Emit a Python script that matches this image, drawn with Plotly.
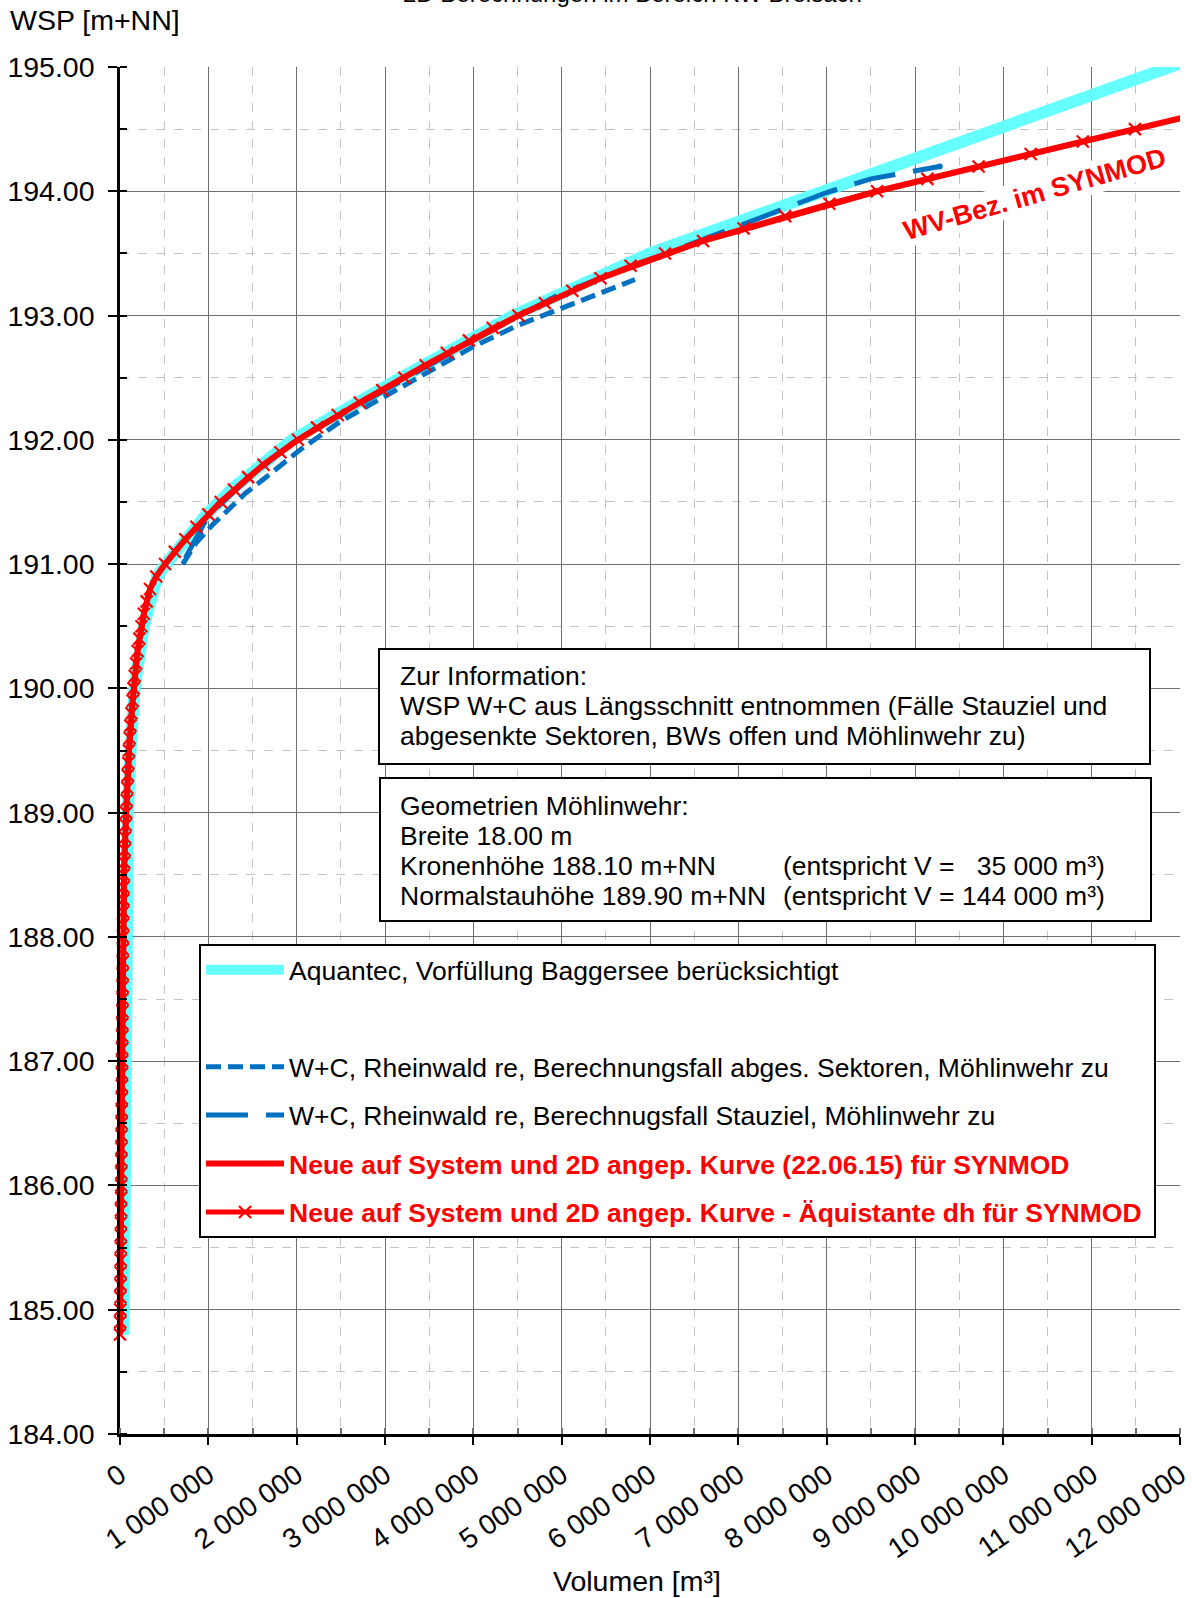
import plotly.graph_objects as go

# ---------------------------------------------------------------------------
# Storage curves  (water level WSP [m+NN] vs. volume [m³])
# ---------------------------------------------------------------------------

# Aquantec, pre-filling of the gravel pit considered
aquantec_wsp = [184.8, 185.0, 186.0, 187.0, 188.0, 189.0, 189.5, 190.0, 190.5, 190.8,
                190.9, 191.0, 191.2, 191.4, 191.6, 191.8, 192.0, 192.5, 193.0, 193.5,
                194.0, 194.5, 195.0, 195.1]
aquantec_vol = [40000, 42000, 50000, 58000, 68000, 90000, 120000, 165000, 270000, 370000,
                420000, 520000, 740000, 980000, 1260000, 1580000, 1950000, 3180000, 4450000, 6000000,
                7970000, 9950000, 11880000, 12280000]

# W+C, Rheinwald re, case "lowered sectors"
wc_sek_wsp = [191.00, 191.17, 191.31, 191.45, 191.57, 191.68, 191.81, 191.92, 192.15, 192.35,
              192.56, 192.75, 192.92, 193.06, 193.19, 193.29]
wc_sek_vol = [710000, 860000, 1040000, 1240000, 1420000, 1620000, 1840000, 2040000, 2500000, 3000000,
              3500000, 4000000, 4500000, 5000000, 5450000, 5830000]

# W+C, Rheinwald re, case "Stauziel"
wc_stau_wsp = [191.05, 191.39, 191.72, 192.00, 192.40, 192.80, 193.18, 193.45, 193.61, 193.72,
               193.85, 193.99, 194.10, 194.17, 194.20]
wc_stau_vol = [740000, 1000000, 1500000, 2000000, 3000000, 4000000, 5000000, 6000000, 6600000, 7000000,
               7500000, 8000000, 8500000, 9000000, 9280000]

# New curve adapted to system and 2D (22.06.15)
neu_wsp = [184.8, 185.5, 186.5, 187.5, 188.1, 188.5, 189.0, 189.5, 189.9, 190.3,
           190.6, 190.8, 190.9, 191.0, 191.2, 191.5, 191.8, 192.0, 192.3, 192.6,
           193.0, 193.3, 193.6, 194.0, 194.3, 194.6]
neu_vol = [0, 9000, 19000, 29000, 35000, 44000, 70000, 101000, 144000, 199000,
           270000, 340000, 410000, 510000, 740000, 1140000, 1625000, 2015000, 2715000, 3460000,
           4510000, 5440000, 6600000, 8570000, 10310000, 12080000]

# New curve, equidistant levels (dh = 0.1 m)
aeq_wsp = [184.8, 184.9, 185.0, 185.1, 185.2, 185.3, 185.4, 185.5, 185.6, 185.7,
           185.8, 185.9, 186.0, 186.1, 186.2, 186.3, 186.4, 186.5, 186.6, 186.7,
           186.8, 186.9, 187.0, 187.1, 187.2, 187.3, 187.4, 187.5, 187.6, 187.7,
           187.8, 187.9, 188.0, 188.1, 188.2, 188.3, 188.4, 188.5, 188.6, 188.7,
           188.8, 188.9, 189.0, 189.1, 189.2, 189.3, 189.4, 189.5, 189.6, 189.7,
           189.8, 189.9, 190.0, 190.1, 190.2, 190.3, 190.4, 190.5, 190.6, 190.7,
           190.8, 190.9, 191.0, 191.1, 191.2, 191.3, 191.4, 191.5, 191.6, 191.7,
           191.8, 191.9, 192.0, 192.1, 192.2, 192.3, 192.4, 192.5, 192.6, 192.7,
           192.8, 192.9, 193.0, 193.1, 193.2, 193.3, 193.4, 193.5, 193.6, 193.7,
           193.8, 193.9, 194.0, 194.1, 194.2, 194.3, 194.4, 194.5]
aeq_vol = [0, 2000, 4000, 5000, 6000, 7000, 8000, 9000, 10000, 11000,
           12000, 13000, 14000, 15000, 16000, 17000, 18000, 19000, 20000, 21000,
           22000, 23000, 24000, 25000, 26000, 27000, 28000, 29000, 30000, 31000,
           32000, 33000, 34000, 35000, 37000, 39000, 41000, 44000, 48000, 53000,
           58000, 64000, 70000, 76000, 82000, 88000, 94000, 101000, 109000, 118000,
           129000, 144000, 154000, 167000, 182000, 199000, 219000, 243000, 270000, 302000,
           340000, 410000, 510000, 620000, 740000, 865000, 1000000, 1140000, 1290000, 1450000,
           1625000, 1815000, 2015000, 2230000, 2465000, 2715000, 2970000, 3220000, 3460000, 3700000,
           3950000, 4220000, 4510000, 4810000, 5120000, 5440000, 5780000, 6170000, 6600000, 7060000,
           7530000, 8030000, 8570000, 9140000, 9720000, 10310000, 10900000, 11490000]

legend_names = [
    "Aquantec, Vorfüllung Baggersee berücksichtigt",
    " ",
    "W+C, Rheinwald re, Berechnungsfall abges. Sektoren, Möhlinwehr zu",
    "W+C, Rheinwald re, Berechnugsfall Stauziel, Möhlinwehr zu",
    "Neue auf System und 2D angep. Kurve (22.06.15) für SYNMOD",
    "Neue auf System und 2D angep. Kurve - Äquistante dh für SYNMOD",
]

x_tick_vals = [0, 1e6, 2e6, 3e6, 4e6, 5e6, 6e6, 7e6, 8e6, 9e6, 10e6, 11e6, 12e6]
y_tick_vals = [184, 185, 186, 187, 188, 189, 190, 191, 192, 193, 194, 195]

# ---------------------------------------------------------------------------
FONT = "Liberation Sans, Arial, sans-serif"
CYAN = "#66FFFF"
BLUE = "#0070C0"
RED = "#FF0000"

W, H = 1192, 1598
ML, MR, MT, MB = 120, 12, 67, 164
PW, PH = W - ML - MR, H - MT - MB


def px(x):
    return (x - ML) / PW


def py(y):
    return (H - MB - y) / PH


def red(txt):
    return f"<span style='color:{RED}'><b>{txt}</b></span>"


fig = go.Figure()

fig.add_trace(go.Scatter(
    x=aquantec_vol, y=aquantec_wsp, mode="lines", name=legend_names[0],
    line=dict(color=CYAN, width=12), legendgroup="a"))

fig.add_trace(go.Scatter(
    x=[None], y=[None], mode="lines", name=legend_names[1],
    line=dict(color="rgba(0,0,0,0)", width=1), legendgroup="b"))

fig.add_trace(go.Scatter(
    x=wc_sek_vol, y=wc_sek_wsp, mode="lines", name=legend_names[2],
    line=dict(color=BLUE, width=5, dash="15px,7px"), legendgroup="c"))

fig.add_trace(go.Scatter(
    x=wc_stau_vol, y=wc_stau_wsp, mode="lines", name=legend_names[3],
    line=dict(color=BLUE, width=5, dash="42px,18px"), legendgroup="d"))

fig.add_trace(go.Scatter(
    x=wc_stau_vol[-1:], y=wc_stau_wsp[-1:], mode="markers", showlegend=False,
    marker=dict(color=BLUE, size=6), legendgroup="d"))

fig.add_trace(go.Scatter(
    x=neu_vol, y=neu_wsp, mode="lines", name=red(legend_names[4]),
    line=dict(color=RED, width=6), legendgroup="e"))

fig.add_trace(go.Scatter(
    x=aeq_vol, y=aeq_wsp, mode="lines+markers", name=red(legend_names[5]) + "\u00a0",
    line=dict(color=RED, width=5),
    marker=dict(symbol="x-thin", size=12, color=RED, line=dict(color=RED, width=2.2)),
    cliponaxis=False, legendgroup="f"))

grid_major = "#6f6f6f"
grid_minor = "#c4c4c4"

fig.update_layout(
    width=W, height=H,
    margin=dict(l=ML, r=MR, t=MT, b=MB, pad=0, autoexpand=False),
    paper_bgcolor="white", plot_bgcolor="white",
    separators=". ",
    font=dict(family=FONT, size=26, color="black"),
    showlegend=True,
    legend=dict(
        x=px(199), y=py(944), xanchor="left", yanchor="top",
        bgcolor="white", bordercolor="black", borderwidth=2,
        font=dict(family=FONT, size=26.5, color="black"),
        itemwidth=78, tracegroupgap=11, traceorder="grouped",
    ),
    xaxis=dict(
        range=[0, 12e6], tickvals=x_tick_vals, tickformat=",", automargin=False,
        tickangle=-35, tickfont=dict(size=28), ticklabelstandoff=3,
        showline=True, linecolor="black", linewidth=2.5,
        ticks="outside", ticklen=8, tickcolor="black", tickwidth=1.5,
        showgrid=True, gridcolor=grid_major, gridwidth=1.3, zeroline=False,
        minor=dict(dtick=5e5, tick0=0, showgrid=True, gridcolor=grid_minor, griddash="dash",
                   gridwidth=1, ticks="inside", ticklen=6, tickcolor=grid_major),
    ),
    yaxis=dict(
        range=[184, 195], tickvals=y_tick_vals, tickformat=".2f", automargin=False,
        tickfont=dict(size=28.5), ticklabelstandoff=8,
        showline=True, linecolor="black", linewidth=2.5,
        ticks="outside", ticklen=9, tickcolor="black", tickwidth=1.5,
        showgrid=True, gridcolor=grid_major, gridwidth=1.3, zeroline=False,
        minor=dict(dtick=0.5, tick0=184, showgrid=True, gridcolor=grid_minor, griddash="dash",
                   gridwidth=1, ticks="inside", ticklen=7, tickcolor="black"),
    ),
)

annotations = [
    # chart heading, running off the top edge of the page
    dict(x=px(632), y=py(-7), text="2D Berechnungen im Bereich KW Breisach",
         font=dict(size=24), xanchor="center", yanchor="middle"),
    # axis titles
    dict(x=px(8), y=py(20), text="WSP [m+NN]", font=dict(size=28.5),
         xanchor="left", yanchor="middle"),
    dict(x=px(637), y=py(1581), text="Volumen [m³]", font=dict(size=28.5),
         xanchor="center", yanchor="middle"),
    # info box 1
    dict(x=px(398), y=py(676), text="Zur Information:"),
    dict(x=px(398), y=py(706), text="WSP W+C aus Längsschnitt entnommen (Fälle Stauziel und"),
    dict(x=px(398), y=py(736), text="abgesenkte Sektoren, BWs offen und Möhlinwehr zu)"),
    # info box 2
    dict(x=px(398), y=py(806), text="Geometrien Möhlinwehr:"),
    dict(x=px(398), y=py(836), text="Breite 18.00 m"),
    dict(x=px(398), y=py(866), text="Kronenhöhe 188.10 m+NN"),
    dict(x=px(398), y=py(896), text="Normalstauhöhe 189.90 m+NN"),
    dict(x=px(781), y=py(866), text="(entspricht V =\u00a0\u00a0\u00a035 000 m³)"),
    dict(x=px(781), y=py(896), text="(entspricht V = 144 000 m³)"),
]
for a in annotations:
    a.setdefault("xref", "paper")
    a.setdefault("yref", "paper")
    a.setdefault("showarrow", False)
    a.setdefault("xanchor", "left")
    a.setdefault("yanchor", "middle")
    a.setdefault("font", dict(size=26.5))
    a["font"] = dict(family=FONT, color="black", **a["font"])
    fig.add_annotation(**a)

# curve label
fig.add_annotation(
    x=10.36e6, y=193.98, xref="x", yref="y", showarrow=False,
    text="<b>WV-Bez. im SYNMOD</b>", textangle=-16, bgcolor="white",
    font=dict(family=FONT, size=27, color=RED))

# info frames
for x0, y0, x1, y1 in [(379, 649, 1150, 764), (380, 778, 1151, 921)]:
    fig.add_shape(type="rect", xref="paper", yref="paper",
                  x0=px(x0), x1=px(x1), y0=py(y1), y1=py(y0),
                  line=dict(color="black", width=2), fillcolor="white", layer="above")

fig.write_html("out.html")
